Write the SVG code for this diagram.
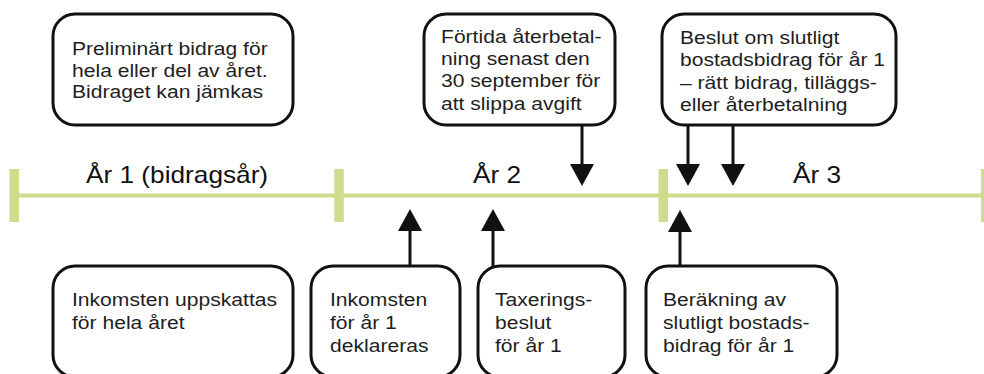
<svg xmlns="http://www.w3.org/2000/svg" width="984" height="374" viewBox="0 0 984 374">
<style>
.box{fill:#fff;stroke:#111;stroke-width:3}
.t{font-family:"Liberation Sans",Arial,sans-serif;font-size:18.5px;fill:#1e1e1e}
.lbl{font-family:"Liberation Sans",Arial,sans-serif;font-size:23px;fill:#111}
.c{stroke:#111;stroke-width:3;fill:none;marker-end:url(#ah)}
.g{fill:#cedc8c}
</style>
<defs>
<marker id="ah" markerUnits="userSpaceOnUse" markerWidth="22" markerHeight="24" viewBox="0 0 22 24" refX="1" refY="12" orient="auto">
<path d="M0,0 L22,12 L0,24 z" fill="#111"/>
</marker>
</defs>
<g id="timeline">
<rect class="g" x="14" y="193.5" width="970" height="4"/>
<rect class="g" x="9.5" y="169" width="9.5" height="53"/>
<rect class="g" x="334.3" y="169" width="9.5" height="53"/>
<rect class="g" x="658.5" y="169" width="9.5" height="53"/>
<rect class="g" x="981" y="169" width="9.5" height="53"/>
<text class="lbl" transform="translate(86,183.3) scale(1.14,1)">År 1 (bidragsår)</text>
<text class="lbl" transform="translate(473,183.3) scale(1.14,1)">År 2</text>
<text class="lbl" transform="translate(793,183.3) scale(1.14,1)">År 3</text>
</g>
<g id="connectors">
<line class="c" x1="582" y1="126" x2="582" y2="165"/>
<line class="c" x1="688" y1="126" x2="688" y2="165"/>
<line class="c" x1="733" y1="126" x2="733" y2="165"/>
<line class="c" x1="410" y1="266" x2="410" y2="230"/>
<line class="c" x1="493" y1="266" x2="493" y2="230"/>
<line class="c" x1="680" y1="266" x2="680" y2="231"/>
</g>
<g id="n1">
<rect class="box" x="53" y="14" width="240" height="111" rx="22"/>
<text class="t" transform="translate(72,55) scale(1.14,1)"><tspan x="0" y="0">Preliminärt bidrag för</tspan><tspan x="0" y="21.7">hela eller del av året.</tspan><tspan x="0" y="43.4">Bidraget kan jämkas</tspan></text>
</g>
<g id="n2">
<rect class="box" x="424" y="14" width="191" height="111" rx="22"/>
<text class="t" transform="translate(441,43) scale(1.14,1)"><tspan x="0" y="0">Förtida återbetal-</tspan><tspan x="0" y="22.2">ning senast den</tspan><tspan x="0" y="44.4">30 september för</tspan><tspan x="0" y="66.6">att slippa avgift</tspan></text>
</g>
<g id="n3">
<rect class="box" x="662" y="14" width="234" height="111" rx="22"/>
<text class="t" transform="translate(680,44) scale(1.14,1)"><tspan x="0" y="0">Beslut om slutligt</tspan><tspan x="0" y="22.3">bostadsbidrag för år 1</tspan><tspan x="0" y="44.6">– rätt bidrag, tilläggs-</tspan><tspan x="0" y="66.9">eller återbetalning</tspan></text>
</g>
<g id="n4">
<rect class="box" x="53" y="266" width="240" height="111" rx="22"/>
<text class="t" transform="translate(72,306) scale(1.14,1)"><tspan x="0" y="0">Inkomsten uppskattas</tspan><tspan x="0" y="23">för hela året</tspan></text>
</g>
<g id="n5">
<rect class="box" x="311" y="266" width="149" height="111" rx="22"/>
<text class="t" transform="translate(330,306) scale(1.14,1)"><tspan x="0" y="0">Inkomsten</tspan><tspan x="0" y="23">för år 1</tspan><tspan x="0" y="46">deklareras</tspan></text>
</g>
<g id="n6">
<rect class="box" x="478" y="266" width="147" height="111" rx="22"/>
<text class="t" transform="translate(495,306) scale(1.14,1)"><tspan x="0" y="0">Taxerings-</tspan><tspan x="0" y="23">beslut</tspan><tspan x="0" y="46">för år 1</tspan></text>
</g>
<g id="n7">
<rect class="box" x="646" y="266" width="191" height="111" rx="22"/>
<text class="t" transform="translate(663,306) scale(1.14,1)"><tspan x="0" y="0">Beräkning av</tspan><tspan x="0" y="23">slutligt bostads-</tspan><tspan x="0" y="46">bidrag för år 1</tspan></text>
</g>
</svg>
